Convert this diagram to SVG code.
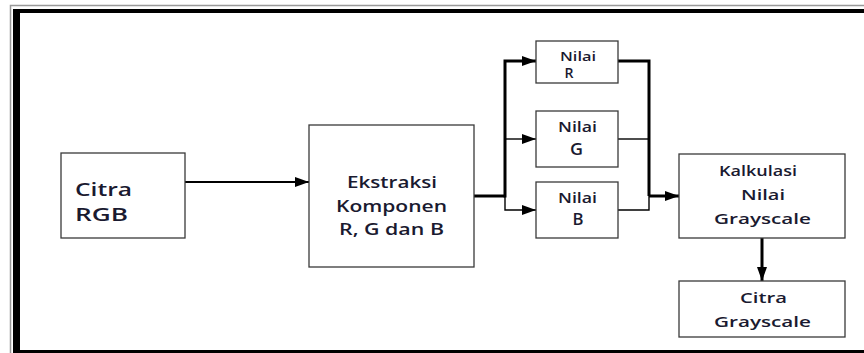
<svg xmlns="http://www.w3.org/2000/svg" width="864" height="353" viewBox="0 0 864 353">
<defs>
<style>
.box{fill:#fff;stroke:#3a3a3a;stroke-width:1.3}
.t{font-family:"Open Sans","DejaVu Sans",sans-serif;fill:#1a1a30;font-weight:600}
.thick{stroke:#000;stroke-width:3;fill:none}
.mid{stroke:#000;stroke-width:2.2;fill:none}
.thin{stroke:#000;stroke-width:1.4;fill:none}
</style>
<marker id="ah" markerUnits="userSpaceOnUse" markerWidth="14" markerHeight="10" refX="14" refY="5" orient="auto">
<path d="M0,0 L14,5 L0,10 Z" fill="#000"/>
</marker>
</defs>
<rect width="864" height="353" fill="#fff"/>
<g id="frame">
<path d="M10.5,353 V5.5 H864" fill="none" stroke="#999" stroke-width="1.5"/>
<rect x="13" y="9" width="851" height="4" fill="#000"/>
<rect x="13" y="9" width="7" height="344" fill="#000"/>
<rect x="13" y="350" width="851" height="3" fill="#000"/>
</g>
<g id="connectors">
<line class="mid" x1="185" y1="182" x2="309" y2="182" marker-end="url(#ah)"/>
<polyline class="thick" points="474,196 505,196"/>
<polyline class="thick" points="505,197.5 505,61 536,61" marker-end="url(#ah)"/>
<polyline class="thin" points="505,139 536,139" marker-end="url(#ah)"/>
<polyline class="thin" points="505,196 505,210 536,210" marker-end="url(#ah)"/>
<polyline class="thick" points="618,61 649,61 649,196"/>
<polyline class="thin" points="618,139 649,139"/>
<polyline class="thin" points="618,210 649,210 649,196"/>
<polyline class="thick" points="649,196 679,196" marker-end="url(#ah)"/>
<line class="thick" x1="762" y1="238" x2="762" y2="281" marker-end="url(#ah)"/>
</g>
<g id="citra-rgb">
<rect class="box" x="61" y="153" width="124" height="85"/>
<text class="t" font-size="18" x="75" y="196" textLength="57" lengthAdjust="spacingAndGlyphs">Citra</text>
<text class="t" font-size="18" x="75" y="221" textLength="53" lengthAdjust="spacingAndGlyphs">RGB</text>
</g>
<g id="ekstraksi">
<rect class="box" x="309" y="125" width="165" height="142"/>
<text class="t" font-size="15.5" x="347" y="188" textLength="90" lengthAdjust="spacingAndGlyphs">Ekstraksi</text>
<text class="t" font-size="15.5" x="336" y="212" textLength="111" lengthAdjust="spacingAndGlyphs">Komponen</text>
<text class="t" font-size="15.5" x="339" y="235" textLength="105" lengthAdjust="spacingAndGlyphs">R, G dan B</text>
</g>
<g id="nilai-r">
<rect class="box" x="536" y="41" width="82" height="42"/>
<text class="t" font-size="12.5" x="560" y="61" textLength="36" lengthAdjust="spacingAndGlyphs">Nilai</text>
<text class="t" font-size="13.5" x="564.5" y="78" textLength="9" lengthAdjust="spacingAndGlyphs">R</text>
</g>
<g id="nilai-g">
<rect class="box" x="536" y="111" width="82" height="56"/>
<text class="t" font-size="14" x="558" y="132" textLength="39" lengthAdjust="spacingAndGlyphs">Nilai</text>
<text class="t" font-size="15.5" x="570" y="155" textLength="13" lengthAdjust="spacingAndGlyphs">G</text>
</g>
<g id="nilai-b">
<rect class="box" x="536" y="182" width="82" height="56"/>
<text class="t" font-size="14" x="558" y="203" textLength="39" lengthAdjust="spacingAndGlyphs">Nilai</text>
<text class="t" font-size="15.5" x="572.5" y="225" textLength="11" lengthAdjust="spacingAndGlyphs">B</text>
</g>
<g id="kalkulasi">
<rect class="box" x="679" y="154" width="166" height="84"/>
<text class="t" font-size="15" x="719" y="176" textLength="78" lengthAdjust="spacingAndGlyphs">Kalkulasi</text>
<text class="t" font-size="15" x="741" y="200" textLength="44" lengthAdjust="spacingAndGlyphs">Nilai</text>
<text class="t" font-size="15" x="714" y="224" textLength="97" lengthAdjust="spacingAndGlyphs">Grayscale</text>
</g>
<g id="citra-grayscale">
<rect class="box" x="679" y="281" width="166" height="56"/>
<text class="t" font-size="15" x="740" y="303" textLength="47" lengthAdjust="spacingAndGlyphs">Citra</text>
<text class="t" font-size="15" x="714" y="327" textLength="97" lengthAdjust="spacingAndGlyphs">Grayscale</text>
</g>
</svg>
